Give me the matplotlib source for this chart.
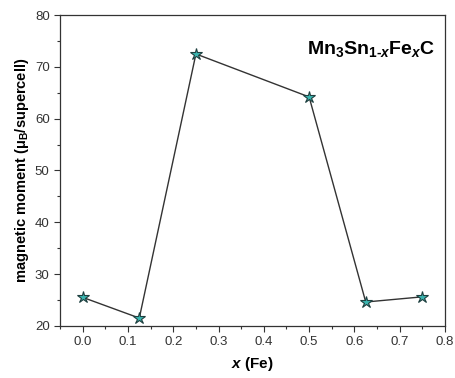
import matplotlib.pyplot as plt
from matplotlib.ticker import MultipleLocator

x_fe = [0.0, 0.125, 0.25, 0.5, 0.625, 0.75]
moment = [25.5, 21.5, 72.5, 64.2, 24.6, 25.6]

plt.rcParams['font.family'] = ['Liberation Sans', 'DejaVu Sans']
plt.rcParams['mathtext.fontset'] = 'custom'
plt.rcParams['mathtext.rm'] = 'Liberation Sans:bold'
plt.rcParams['mathtext.it'] = 'Liberation Sans:bold:italic'
plt.rcParams['mathtext.bf'] = 'Liberation Sans:bold'
plt.rcParams['mathtext.default'] = 'rm'

fig = plt.figure(figsize=(4.55, 3.78), dpi=100)
ax = fig.add_axes([0.132, 0.138, 0.846, 0.822])

ax.plot(x_fe, moment, color='#333333', linewidth=1.0, marker='*',
        markersize=9, markerfacecolor='#3ab5b0', markeredgecolor='#1f3f3f',
        markeredgewidth=0.8)

ax.set_xlim(-0.05, 0.8)
ax.set_ylim(20, 80)
ax.xaxis.set_major_locator(MultipleLocator(0.1))
ax.xaxis.set_minor_locator(MultipleLocator(0.05))
ax.yaxis.set_major_locator(MultipleLocator(10))
ax.yaxis.set_minor_locator(MultipleLocator(5))
ax.tick_params(which='both', direction='out', color='#333333', width=0.8,
               labelsize=9.5, labelcolor='#333333')
ax.tick_params(which='major', length=4)
ax.tick_params(which='minor', length=2)
for s in ax.spines.values():
    s.set_color('#333333')
    s.set_linewidth(0.9)

ax.set_xlabel(r'$\mathit{x}$ (Fe)', fontsize=11, fontweight='bold', labelpad=5)
ax.set_ylabel(r'magnetic moment ($\mu_B$/supercell)', fontsize=10.5,
              fontweight='bold', labelpad=3)

ax.text(0.975, 0.89, r'$Mn_3Sn_{1\text{-}\mathit{x}}Fe_{\mathit{x}}C$',
        transform=ax.transAxes, ha='right', va='center', fontsize=14)

fig.savefig('out.png', dpi=100)
